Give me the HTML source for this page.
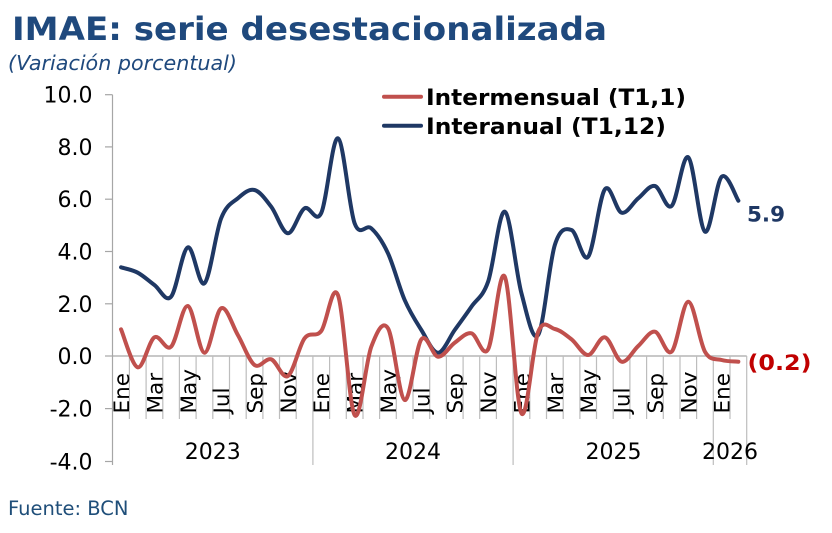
<!DOCTYPE html>
<html>
<head>
<meta charset="utf-8">
<style>
  html,body{margin:0;padding:0;background:#fff;}
  svg{display:block;}
  text{font-family:"DejaVu Sans","Liberation Sans",sans-serif;}
</style>
</head>
<body>
<svg width="832" height="533" viewBox="0 0 832 533" xmlns="http://www.w3.org/2000/svg">
  <rect width="832" height="533" fill="#fff"/>
  <!-- Title -->
  <text x="12" y="40" font-size="32" font-weight="bold" fill="#1f497d" textLength="595" lengthAdjust="spacingAndGlyphs">IMAE: serie desestacionalizada</text>
  <text x="8" y="70" font-size="20" font-style="italic" fill="#1f497d" textLength="229" lengthAdjust="spacingAndGlyphs">(Variación porcentual)</text>

  <!-- Y axis -->
  <g stroke="#a6a6a6" stroke-width="1.2">
    <line x1="112.5" y1="94.7" x2="112.5" y2="465"/>
    <line x1="105" y1="94.7" x2="112.5" y2="94.7"/>
    <line x1="105" y1="146.9" x2="112.5" y2="146.9"/>
    <line x1="105" y1="199.2" x2="112.5" y2="199.2"/>
    <line x1="105" y1="251.5" x2="112.5" y2="251.5"/>
    <line x1="105" y1="303.8" x2="112.5" y2="303.8"/>
    <line x1="105" y1="356" x2="112.5" y2="356"/>
    <line x1="105" y1="408.6" x2="112.5" y2="408.6"/>
    <line x1="105" y1="461.5" x2="112.5" y2="461.5"/>
  </g>
  <g font-size="22" fill="#000" text-anchor="end">
    <text x="92.5" y="102.7">10.0</text>
    <text x="92.5" y="154.9">8.0</text>
    <text x="92.5" y="207.2">6.0</text>
    <text x="92.5" y="259.5">4.0</text>
    <text x="92.5" y="311.8">2.0</text>
    <text x="92.5" y="364">0.0</text>
    <text x="92.5" y="416.6">-2.0</text>
    <text x="92.5" y="469.5">-4.0</text>
  </g>

  <!-- Category gridlines -->
  <g stroke="#bdbdbd" stroke-width="1.2">
    <line x1="112.7" y1="356" x2="746.7" y2="356" stroke="#a6a6a6"/>
    <line x1="129.4" y1="356" x2="129.4" y2="419"/>
    <line x1="146.1" y1="356" x2="146.1" y2="419"/>
    <line x1="162.8" y1="356" x2="162.8" y2="419"/>
    <line x1="179.4" y1="356" x2="179.4" y2="419"/>
    <line x1="196.1" y1="356" x2="196.1" y2="419"/>
    <line x1="212.8" y1="356" x2="212.8" y2="419"/>
    <line x1="229.5" y1="356" x2="229.5" y2="419"/>
    <line x1="246.2" y1="356" x2="246.2" y2="419"/>
    <line x1="262.9" y1="356" x2="262.9" y2="419"/>
    <line x1="279.5" y1="356" x2="279.5" y2="419"/>
    <line x1="296.2" y1="356" x2="296.2" y2="419"/>
    <line x1="312.9" y1="356" x2="312.9" y2="465"/>
    <line x1="329.6" y1="356" x2="329.6" y2="419"/>
    <line x1="346.3" y1="356" x2="346.3" y2="419"/>
    <line x1="363.0" y1="356" x2="363.0" y2="419"/>
    <line x1="379.6" y1="356" x2="379.6" y2="419"/>
    <line x1="396.3" y1="356" x2="396.3" y2="419"/>
    <line x1="413.0" y1="356" x2="413.0" y2="419"/>
    <line x1="429.7" y1="356" x2="429.7" y2="419"/>
    <line x1="446.4" y1="356" x2="446.4" y2="419"/>
    <line x1="463.1" y1="356" x2="463.1" y2="419"/>
    <line x1="479.7" y1="356" x2="479.7" y2="419"/>
    <line x1="496.4" y1="356" x2="496.4" y2="419"/>
    <line x1="513.1" y1="356" x2="513.1" y2="465"/>
    <line x1="529.8" y1="356" x2="529.8" y2="419"/>
    <line x1="546.5" y1="356" x2="546.5" y2="419"/>
    <line x1="563.2" y1="356" x2="563.2" y2="419"/>
    <line x1="579.9" y1="356" x2="579.9" y2="419"/>
    <line x1="596.5" y1="356" x2="596.5" y2="419"/>
    <line x1="613.2" y1="356" x2="613.2" y2="419"/>
    <line x1="629.9" y1="356" x2="629.9" y2="419"/>
    <line x1="646.6" y1="356" x2="646.6" y2="419"/>
    <line x1="663.3" y1="356" x2="663.3" y2="419"/>
    <line x1="680.0" y1="356" x2="680.0" y2="419"/>
    <line x1="696.6" y1="356" x2="696.6" y2="419"/>
    <line x1="713.3" y1="356" x2="713.3" y2="465"/>
    <line x1="730.0" y1="356" x2="730.0" y2="419"/>
    <line x1="746.7" y1="356" x2="746.7" y2="465"/>
  </g>

  <!-- Month labels -->
  <g font-size="21.5" fill="#000">
    <text transform="translate(129,413.5) rotate(-90)">Ene</text>
    <text transform="translate(162.4,413.5) rotate(-90)">Mar</text>
    <text transform="translate(195.8,413.5) rotate(-90)">May</text>
    <text transform="translate(229.1,413.5) rotate(-90)">Jul</text>
    <text transform="translate(262.5,413.5) rotate(-90)">Sep</text>
    <text transform="translate(295.9,413.5) rotate(-90)">Nov</text>
    <text transform="translate(329.2,413.5) rotate(-90)">Ene</text>
    <text transform="translate(362.6,413.5) rotate(-90)">Mar</text>
    <text transform="translate(396,413.5) rotate(-90)">May</text>
    <text transform="translate(429.4,413.5) rotate(-90)">Jul</text>
    <text transform="translate(462.7,413.5) rotate(-90)">Sep</text>
    <text transform="translate(496.1,413.5) rotate(-90)">Nov</text>
    <text transform="translate(529.5,413.5) rotate(-90)">Ene</text>
    <text transform="translate(562.8,413.5) rotate(-90)">Mar</text>
    <text transform="translate(596.2,413.5) rotate(-90)">May</text>
    <text transform="translate(629.6,413.5) rotate(-90)">Jul</text>
    <text transform="translate(662.9,413.5) rotate(-90)">Sep</text>
    <text transform="translate(696.3,413.5) rotate(-90)">Nov</text>
    <text transform="translate(729.7,413.5) rotate(-90)">Ene</text>
  </g>

  <!-- Year labels -->
  <g font-size="22" fill="#000" text-anchor="middle">
    <text x="212.8" y="459">2023</text>
    <text x="413" y="459">2024</text>
    <text x="613.5" y="459">2025</text>
    <text x="730" y="459">2026</text>
  </g>

  <!-- Series -->
  <path id="blue" fill="none" stroke="#1f3864" stroke-width="4" stroke-linejoin="round" stroke-linecap="round" d=""/>
  <path id="red" fill="none" stroke="#c0504d" stroke-width="4" stroke-linejoin="round" stroke-linecap="round" d=""/>

  <!-- Legend -->
  <line x1="384" y1="96.7" x2="421" y2="96.7" stroke="#c0504d" stroke-width="4" stroke-linecap="round"/>
  <line x1="384" y1="125.7" x2="421" y2="125.7" stroke="#1f3864" stroke-width="4" stroke-linecap="round"/>
  <g font-size="22.5" font-weight="bold" fill="#000">
    <text x="426" y="105" textLength="260" lengthAdjust="spacingAndGlyphs">Intermensual (T1,1)</text>
    <text x="426" y="134" textLength="240" lengthAdjust="spacingAndGlyphs">Interanual (T1,12)</text>
  </g>

  <!-- End labels -->
  <text x="747" y="221.7" font-size="21" font-weight="bold" fill="#1f3864" textLength="38" lengthAdjust="spacingAndGlyphs">5.9</text>
  <text x="747.5" y="370" font-size="21.5" font-weight="bold" fill="#c00000" textLength="64" lengthAdjust="spacingAndGlyphs">(0.2)</text>

  <!-- Footer -->
  <text x="8" y="515" font-size="19.5" fill="#1f4e79">Fuente: BCN</text>
</svg>
<script>
(function(){
  var blueY=[267.3,272.7,285,296.7,247.3,283.3,218.3,198.3,190,206.7,233.3,208.3,213,138.3,223.3,228.3,253.3,300,330,352.7,330,306.7,281.7,211.7,293.3,335,245,230,256.7,189.3,212.7,198.3,186,206,157.3,231.7,176.7,200.7];
  var redY=[329.3,367.3,337.3,346.7,306,352.7,308.3,335,365,359.3,376,338.3,331,295,415,346.7,328.3,400,339.3,356.7,342.7,333.3,349.3,276.7,413.3,332,329,339.3,355,337.3,361.7,346,331.7,351.7,301.7,351.7,360,361.7];
  function pts(ys){var p=[];for(var i=0;i<ys.length;i++){p.push([121.04+16.684*i,ys[i]]);}return p;}
  function smooth(p){
    var d="M"+p[0][0].toFixed(2)+","+p[0][1].toFixed(2);
    for(var i=0;i<p.length-1;i++){
      var p0=p[i>0?i-1:i],p1=p[i],p2=p[i+1],p3=p[i+2<p.length?i+2:i+1];
      var c1x=p1[0]+(p2[0]-p0[0])/6,c1y=p1[1]+(p2[1]-p0[1])/6;
      var c2x=p2[0]-(p3[0]-p1[0])/6,c2y=p2[1]-(p3[1]-p1[1])/6;
      d+=" C"+c1x.toFixed(2)+","+c1y.toFixed(2)+" "+c2x.toFixed(2)+","+c2y.toFixed(2)+" "+p2[0].toFixed(2)+","+p2[1].toFixed(2);
    }
    return d;
  }
  document.getElementById("blue").setAttribute("d",smooth(pts(blueY)));
  document.getElementById("red").setAttribute("d",smooth(pts(redY)));
})();
</script>
</body>
</html>
